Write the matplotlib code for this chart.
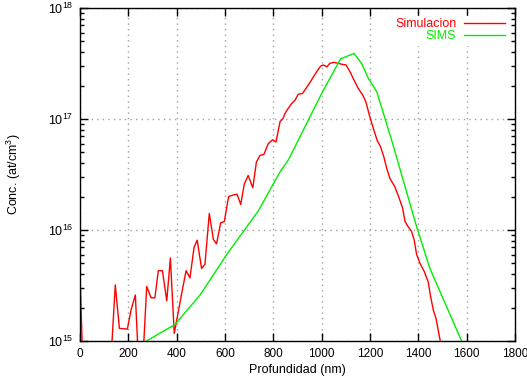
import matplotlib
matplotlib.use("Agg")
import matplotlib.pyplot as plt
from matplotlib.ticker import LogLocator, NullFormatter, MultipleLocator, NullLocator

plt.rcParams['font.family'] = ['Liberation Sans', 'DejaVu Sans']
plt.rcParams['mathtext.default'] = 'regular'

sim_x = [0, 10, 130, 146, 163, 196, 211, 229, 240, 262, 276, 294, 310, 324, 341, 359,
         374, 390, 421, 439, 455, 472, 485, 503, 517, 535, 552, 565, 582, 597, 615, 634,
         650, 665, 680, 696, 715, 730, 745, 761, 779, 797, 811, 828, 839, 848, 862, 876,
         890, 903, 921, 938, 954, 968, 982, 996, 1007, 1021, 1034, 1051, 1069, 1087, 1101,
         1117, 1134, 1151, 1170, 1183, 1197, 1214, 1230, 1244, 1258, 1269, 1283, 1303,
         1321, 1335, 1345, 1358, 1372, 1383, 1393, 1407, 1425, 1441, 1451, 1462, 1473,
         1490, 1500]
sim_y = [4.0e15, 8e14, 8e14, 3.2e15, 1.3e15, 1.28e15, 1.9e15, 2.6e15, 8e14, 8e14, 3.1e15,
         2.45e15, 2.45e15, 4.3e15, 4.3e15, 2.3e15, 5.6e15, 1.17e15, 2.7e15, 4.3e15, 3.7e15,
         7.0e15, 8.1e15, 4.5e15, 4.9e15, 1.41e16, 8.2e15, 7.5e15, 1.16e16, 1.19e16, 2.0e16,
         2.07e16, 2.1e16, 1.7e16, 2.6e16, 3.1e16, 2.4e16, 4.1e16, 4.7e16, 4.8e16, 6.0e16,
         6.5e16, 6.2e16, 9.5e16, 1.0e17, 1.12e17, 1.25e17, 1.38e17, 1.48e17, 1.67e17,
         1.7e17, 1.93e17, 2.17e17, 2.44e17, 2.72e17, 3.0e17, 3.07e17, 2.95e17, 3.17e17,
         3.24e17, 3.17e17, 3.1e17, 3.07e17, 2.67e17, 2.24e17, 1.89e17, 1.64e17, 1.43e17,
         1.09e17, 8.2e16, 6.4e16, 5.6e16, 4.5e16, 3.6e16, 2.9e16, 2.45e16, 1.93e16,
         1.57e16, 1.19e16, 1.07e16, 9.7e15, 8.1e15, 6.0e15, 5.0e15, 4.2e15, 3.4e15,
         2.5e15, 1.9e15, 1.6e15, 1.02e15, 8e14]

sims_x = [250, 393, 497, 607, 738, 828, 862, 1000, 1078, 1134, 1165, 1193, 1228, 1290,
          1393, 1448, 1579, 1600]
sims_y = [9.3e14, 1.41e15, 2.6e15, 6.0e15, 1.49e16, 3.35e16, 4.27e16, 1.7e17, 3.48e17,
          3.9e17, 3.17e17, 2.33e17, 1.76e17, 6.4e16, 1.07e16, 4.5e15, 1.0e15, 8.5e14]

fig = plt.figure(figsize=(5.27, 3.79), dpi=100)
ax = fig.add_axes([80/527, 1-341/379, 435/527, 333/379])

ax.plot(sim_x, sim_y, color='#ff0000', lw=1.0, label='Simulacion')
ax.plot(sims_x, sims_y, color='#00ee00', lw=1.0, label='SIMS')

ax.set_yscale('log')
ax.set_xlim(0, 1800)
ax.set_ylim(1e15, 1e18)
ax.xaxis.set_major_locator(MultipleLocator(200))
ax.xaxis.set_minor_locator(NullLocator())
ax.yaxis.set_major_locator(LogLocator(base=10, numticks=10))
ax.yaxis.set_minor_locator(LogLocator(base=10, subs=range(2, 10), numticks=20))
ax.yaxis.set_minor_formatter(NullFormatter())

ax.tick_params(which='both', direction='in', top=True, right=True)
ax.tick_params(axis='x', labelsize=8.5, pad=5)
ax.tick_params(axis='y', labelsize=9, pad=5)
ax.tick_params(which='major', length=6, width=1)
ax.tick_params(which='minor', length=3, width=1)
for s in ax.spines.values():
    s.set_linewidth(1.0)

ax.grid(True, which='major', color='#a0a0a0', linestyle=(0, (1, 3)), linewidth=1.0)

ax.set_xlabel('Profundidad (nm)', fontsize=9, labelpad=3)
ax.set_ylabel('Conc. (at/cm$^3$)', fontsize=9, labelpad=18)

leg = ax.legend(loc='upper right', frameon=True, markerfirst=False, fontsize=9,
                handlelength=3.3, labelcolor='linecolor', borderaxespad=0.6,
                handletextpad=0.6, labelspacing=0.0, fancybox=False,
                edgecolor='white', facecolor='white', framealpha=1.0,
                borderpad=0.2)
for t in leg.get_texts():
    t.set_ha('right')

fig.savefig('out.png', dpi=100)
